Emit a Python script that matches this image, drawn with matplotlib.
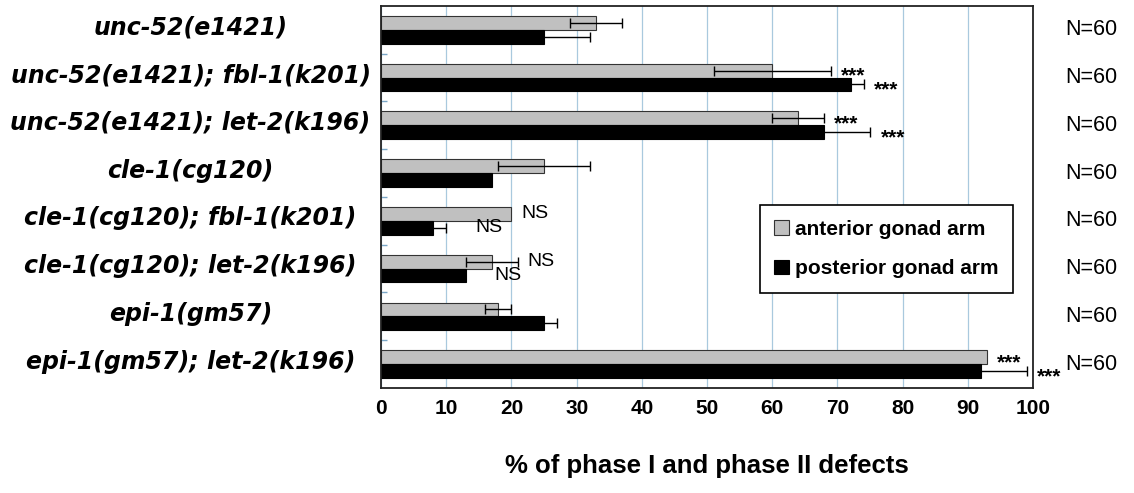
import numpy as np
import matplotlib
matplotlib.use("Agg")
import matplotlib.pyplot as plt
from matplotlib.transforms import blended_transform_factory

# datos
genotipos = ["unc-52(e1421)", "unc-52(e1421); fbl-1(k201)", "unc-52(e1421); let-2(k196)",
             "cle-1(cg120)", "cle-1(cg120); fbl-1(k201)", "cle-1(cg120); let-2(k196)",
             "epi-1(gm57)", "epi-1(gm57); let-2(k196)"]
anterior = [33, 60, 64, 25, 20, 17, 18, 93]
anterior_err = [4, 9, 4, 7, 0, 4, 2, 0]
posterior = [25, 72, 68, 17, 8, 13, 25, 92]
posterior_err = [7, 2, 7, 0, 2, 0, 2, 7]
sig_anterior = ["", "***", "***", "", "NS", "NS", "", "***"]
sig_posterior = ["", "***", "***", "", "NS", "NS", "", "***"]
n_textos = ["N=60"] * 8
ticks_x = [0, 10, 20, 30, 40, 50, 60, 70, 80, 90, 100]

fig = plt.figure(figsize=(11.34, 4.93), dpi=100)
ax = fig.add_axes([0.336, 0.213, 0.575, 0.775])

y = np.arange(len(genotipos))
h = 0.29

ax.barh(y - h / 2, anterior, height=h, color="#c0c0c0", edgecolor="#333333", linewidth=0.8,
        label="anterior gonad arm", zorder=2)
ax.barh(y + h / 2, posterior, height=h, color="black", edgecolor="black", linewidth=0.8,
        label="posterior gonad arm", zorder=2)

# barras de error solo donde hay
for i in range(len(y)):
    if anterior_err[i] > 0:
        ax.errorbar(anterior[i], y[i] - h / 2, xerr=anterior_err[i], fmt="none",
                    ecolor="black", elinewidth=1, capsize=3.5, capthick=1, zorder=3)
    if posterior_err[i] > 0:
        ax.errorbar(posterior[i], y[i] + h / 2, xerr=posterior_err[i], fmt="none",
                    ecolor="black", elinewidth=1, capsize=3.5, capthick=1, zorder=3)

# marcas de significancia (*** o NS)
for i in range(len(y)):
    for txt, val, err, yy, es_post in [(sig_anterior[i], anterior[i], anterior_err[i], y[i] - h / 2, False),
                                       (sig_posterior[i], posterior[i], posterior_err[i], y[i] + h / 2, True)]:
        if txt == "":
            continue
        if txt == "***":
            pad = 1.6 if es_post else 1.5
            ax.text(val + err + pad, yy + 0.12, txt, fontsize=15, fontweight="bold",
                    family="Liberation Sans", va="center", ha="left", zorder=4)
        else:
            pad = 4.4 if es_post else 1.5
            ax.text(val + err + pad, yy, txt, fontsize=14, family="Liberation Sans",
                    va="center", ha="left", zorder=4)

ax.set_xlim(0, 100)
ax.set_ylim(len(y) - 0.5, -0.5)
ax.set_xticks(ticks_x)
ax.set_xticklabels([str(t) for t in ticks_x], fontsize=15, fontweight="bold",
                   family="Liberation Sans")
ax.tick_params(axis="x", length=0, pad=8)
ax.set_yticks(np.arange(len(y) - 1) + 0.5)
ax.set_yticklabels([])
ax.tick_params(axis="y", direction="in", length=4, color="#7aa6c6", width=1)
ax.xaxis.grid(True, color="#a9c9de", linewidth=0.9, zorder=0)
ax.set_axisbelow(True)
for s in ax.spines.values():
    s.set_linewidth(1.3)
    s.set_color("#222222")

ax.set_xlabel("% of phase I and phase II defects", fontsize=18.5, fontweight="bold",
              family="Liberation Sans", labelpad=26)

trans = blended_transform_factory(fig.transFigure, ax.transData)
for i, g in enumerate(genotipos):
    ax.text(0.168, y[i] - 0.05, g, transform=trans, ha="center", va="center", fontsize=17,
            fontweight="bold", fontstyle="italic", family="DejaVu Sans")
    ax.text(0.962, y[i], n_textos[i], transform=trans, ha="center", va="center",
            fontsize=15.5, family="Liberation Sans")

leg = ax.legend(loc="upper left", bbox_to_anchor=(0.581, 0.479), fancybox=False,
                edgecolor="black", framealpha=1, borderaxespad=0,
                prop={"family": "Liberation Sans", "weight": "bold", "size": 15},
                handlelength=0.7, handleheight=0.7, handletextpad=0.3, labelspacing=1.0,
                borderpad=0.7)
leg.get_frame().set_linewidth(1.2)

fig.savefig("out.png", dpi=100)
